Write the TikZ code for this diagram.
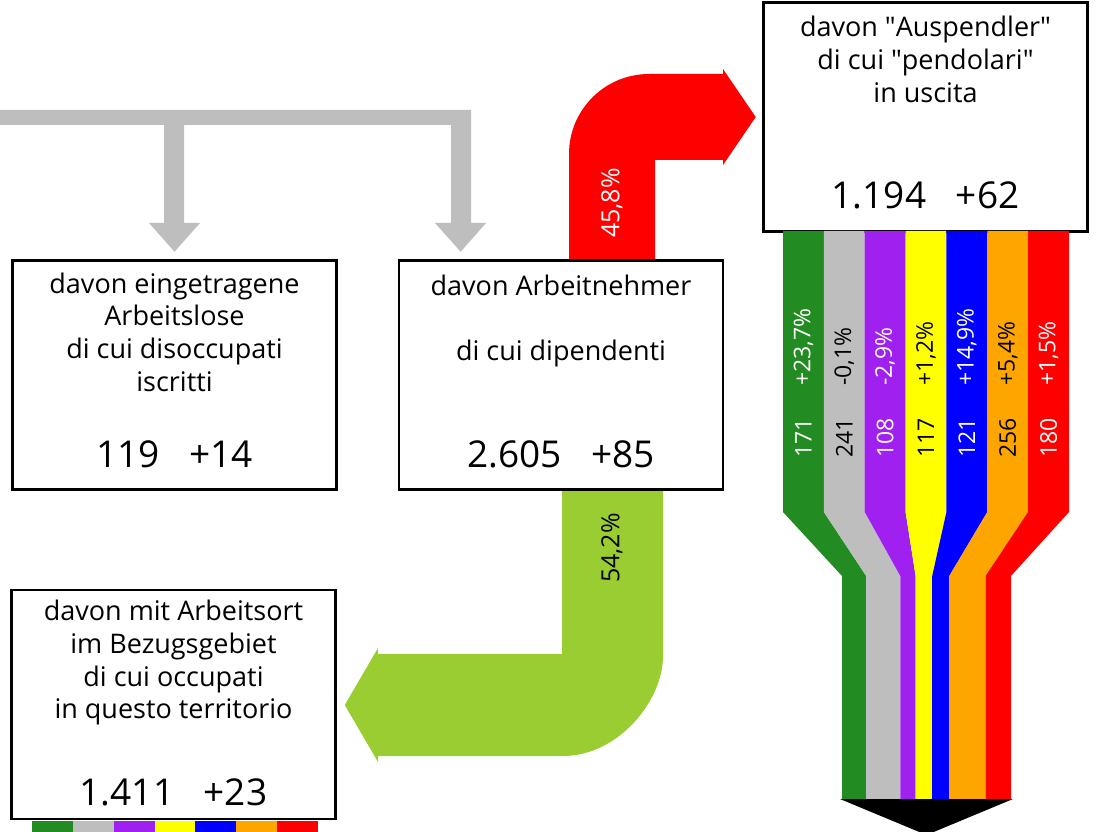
\documentclass[tikz,border=0pt]{standalone}
\usepackage{fontspec}
\setmainfont{Open Sans}
\usetikzlibrary{calc,backgrounds}
\definecolor{cgray}{RGB}{190,190,190}
\definecolor{cgreen}{RGB}{34,139,34}
\definecolor{cpurple}{RGB}{160,32,240}
\definecolor{cyellow}{RGB}{255,255,0}
\definecolor{cblue}{RGB}{0,0,255}
\definecolor{corange}{RGB}{255,165,0}
\definecolor{cred}{RGB}{255,0,0}
\definecolor{clime}{RGB}{154,205,50}
\begin{document}
\begin{tikzpicture}[x=1pt,y=-1pt,
  infobox/.style={draw=black, line width=2.5pt, fill=white, minimum width=324pt, minimum height=229pt, inner sep=0pt},
  lbl/.style={anchor=base, font=\fontsize{27}{31}\selectfont, inner sep=0pt},
  num/.style={anchor=base, font=\fontsize{37}{42}\selectfont, inner sep=0pt},
  vlbl/.style={rotate=90, anchor=west, font=\fontsize{23}{27}\selectfont, inner sep=0pt},
  plbl/.style={rotate=90, font=\fontsize{25}{29}\selectfont, inner sep=0pt},
]
\useasboundingbox (0,0) rectangle (1096,832);
\clip (0,0) rectangle (1096,832);

% boxes
\node[infobox] (b1) at (174.5,375) {};
\node[infobox] (b2) at (561,375) {};
\node[infobox] (b3) at (925.5,117) {};
\node[infobox] (b4) at (173.5,704.5) {};

\begin{scope}[on background layer]
% gray distribution arrows
\coordinate (src) at (0,117.5);
\fill[cgray] (src) ++(0,-7.5) -- (471,110) -- (471,223) -- (486,223)
  -- ($(b2.north)+(-100.3,-7.5)$) -- (435,223) -- (451,223) -- (451,125)
  -- (184,125) -- (184,223) -- (200,223) -- ($(b1.north)+(0,-7.5)$)
  -- (149,223) -- (164,223) -- (164,125) -- (0,125) -- cycle;

% red arrow (Auspendler)
\fill[cred] (569,262) -- (569,154) .. controls (569,109.8) and (604.8,74) .. (649,74)
  -- (723,74) -- (723,69) -- ($(b3.west)+(-6.5,0)$) -- (723,165) -- (723,160)
  -- (655,160) -- (655,262) -- cycle;

% green arrow (Arbeitsort)
\fill[clime] (562,488) -- (562,654) -- (378,654) -- (378,648)
  -- ($(b4.east)+(8,0.5)$) -- (378,762) -- (378,756) -- (563,756)
  .. controls (618.2,756) and (663,700.8) .. (663,656) -- (663,488) -- cycle;
\end{scope}

\node[plbl, text=white] (pr) at (612,203) {45,8\%};
\node[plbl, text=black] (pg) at (612,548) {54,2\%};

% stripes of outgoing commuters
\foreach \c/\i/\bl/\br/\v/\p/\tc in {
  cgreen/0/842/866.2/171/{+23,7\%}/white,
  cgray/1/866.2/900.3/241/{-0,1\%}/black,
  cpurple/2/900.3/915.6/108/{-2,9\%}/white,
  cyellow/3/915.6/932.2/117/{+1,2\%}/black,
  cblue/4/932.2/949.3/121/{+14,9\%}/white,
  corange/5/949.3/985.5/256/{+5,4\%}/black,
  cred/6/985.5/1011/180/{+1,5\%}/white}{
  \pgfmathsetmacro{\al}{783+40.857*\i}
  \pgfmathsetmacro{\ar}{783+40.857*(\i+1)}
  \pgfmathsetmacro{\am}{783+40.857*(\i+0.5)}
  \fill[\c] (\al,231) -- (\ar,231) -- (\ar,512) -- (\br,576) -- (\br,799)
    -- (\bl,799) -- (\bl,576) -- (\al,512) -- cycle;
  \node[vlbl, text=\tc] (n\i) at (\am,458) {\v};
  \node[vlbl, text=\tc] (p\i) at (\am,386) {\p};
  \pgfmathsetmacro{\sl}{32+40.857*\i}
  \fill[\c] (\sl,821) rectangle ++(40.857,15);
}
\fill[black] (840,799) -- (1013,799) -- (926.5,835) -- cycle;

% texts
\node[lbl] (t11) at (174.5,293) {davon eingetragene};
\node[lbl] (t12) at (174.5,325.7) {Arbeitslose};
\node[lbl] (t13) at (174.5,358.4) {di cui disoccupati};
\node[lbl] (t14) at (174.5,391) {iscritti};
\node[num] (v1) at (174.5,467) {119\hspace{0.8em}+14};

\node[lbl] (t21) at (561,295) {davon Arbeitnehmer};
\node[lbl] (t22) at (561,360) {di cui dipendenti};
\node[num] (v2) at (561,467) {2.605\hspace{0.8em}+85};

\node[lbl] (t31) at (925.5,37) {davon \textquotedbl Auspendler\textquotedbl};
\node[lbl] (t32) at (925.5,70) {di cui \textquotedbl pendolari\textquotedbl};
\node[lbl] (t33) at (925.5,103) {in uscita};
\node[num] (v3) at (925.5,208) {1.194\hspace{0.8em}+62};

\node[lbl] (t41) at (173.5,620) {davon mit Arbeitsort};
\node[lbl] (t42) at (173.5,653) {im Bezugsgebiet};
\node[lbl] (t43) at (173.5,686) {di cui occupati};
\node[lbl] (t44) at (173.5,718) {in questo territorio};
\node[num] (v4) at (173.5,805) {1.411\hspace{0.8em}+23};
\end{tikzpicture}
\end{document}
